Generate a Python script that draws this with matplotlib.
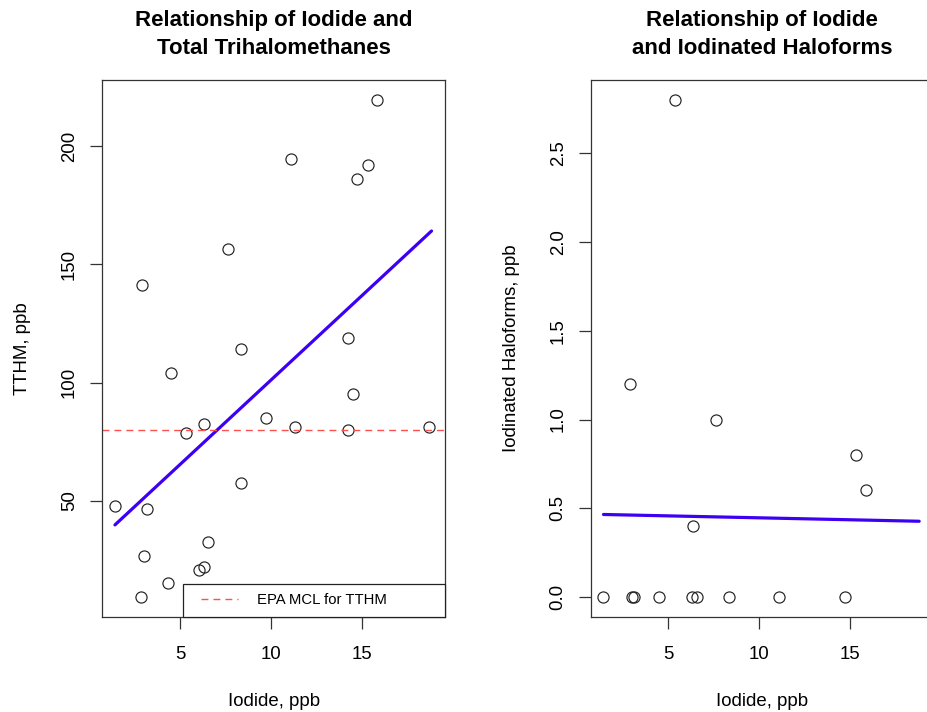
import matplotlib
matplotlib.use("Agg")
import matplotlib.pyplot as plt
from matplotlib.lines import Line2D
from matplotlib.legend_handler import HandlerLine2D

plt.rcParams['font.family'] = ['Liberation Sans', 'DejaVu Sans']

# ---------------- data ----------------
iodide_tthm = [15.83, 11.09, 15.34, 14.70, 7.65, 2.90, 14.20, 8.33, 4.49, 14.51,
               9.72, 6.32, 5.35, 11.30, 14.20, 18.65, 8.33, 1.43, 3.17, 6.55,
               3.04, 6.32, 6.04, 4.36, 2.84]
tthm = [219.4, 194.5, 192.1, 186.2, 156.4, 141.3, 119.0, 114.4, 104.1, 95.2,
        84.9, 82.5, 78.7, 81.3, 80.0, 81.4, 57.6, 48.0, 46.6, 32.5,
        26.8, 22.2, 20.8, 15.2, 9.4]

iodide_ih = [1.42, 2.89, 2.98, 3.13, 4.49, 5.37, 6.28, 6.34, 6.56, 7.64,
             8.34, 11.09, 14.74, 15.35, 15.86]
ih = [0.0, 1.2, 0.0, 0.0, 0.0, 2.8, 0.0, 0.4, 0.0, 1.0,
      0.0, 0.0, 0.0, 0.8, 0.6]

# fitted regression lines (intercept, slope) and iodide range they span
tthm_fit = (29.7, 7.15)
ih_fit = (0.468, -0.0022)
fit_x_range = [1.43, 18.8]

epa_mcl = 80
legend_label = "EPA MCL for TTHM"

left_title = "Relationship of Iodide and\nTotal Trihalomethanes"
right_title = "Relationship of Iodide\nand Iodinated Haloforms"
xlab = "Iodide, ppb"
left_ylab = "TTHM, ppb"
right_ylab = "Iodinated Haloforms, ppb"

left_xticks = [5, 10, 15]
left_yticks = [50, 100, 150, 200]
right_xticks = [5, 10, 15]
right_yticks = [0.0, 0.5, 1.0, 1.5, 2.0, 2.5]
right_yticklabels = ["0.0", "0.5", "1.0", "1.5", "2.0", "2.5"]

# ---------------- layout ----------------
W, H = 928, 712
fig = plt.figure(figsize=(W / 100, H / 100), dpi=100)

ax_w = 342.7
ax_top, ax_bot = 80.3, 617.0
lefts = [102.3, 591.0]

def fx(px):
    return px / W

def fy(py):
    return 1 - py / H

axes = []
for lx in lefts:
    ax = fig.add_axes([fx(lx), fy(ax_bot), ax_w / W, (ax_bot - ax_top) / H])
    axes.append(ax)

BLUE = '#3d00f5'
RED = '#ff5050'
PT_COLOR = '#222222'
TICK_FS = 13.4
LAB_FS = 13.4
TITLE_FS = 16

def style(ax):
    for s in ax.spines.values():
        s.set_color('#333333')
        s.set_linewidth(0.9)
    ax.tick_params(axis='both', direction='out', length=8.3, width=0.9,
                   color='#333333', labelsize=TICK_FS)
    ax.tick_params(axis='x', pad=12.3)
    ax.tick_params(axis='y', pad=9.2, labelrotation=90)
    plt.setp(ax.get_yticklabels(), va='center')

# ---------------- left panel ----------------
ax = axes[0]
ax.plot(iodide_tthm, tthm, linestyle='none', marker='o', markersize=8,
        markerfacecolor='none', markeredgecolor=PT_COLOR, markeredgewidth=0.85)
xs = fit_x_range
ax.plot(xs, [tthm_fit[0] + tthm_fit[1] * x for x in xs], color=BLUE, lw=2.3,
        solid_capstyle='round')
ax.axhline(epa_mcl, color=RED, lw=1.0, linestyle=(0, (5, 3.6)))
ax.set_xlim(0.735, 19.54)
ax.set_ylim(1.0, 227.8)
ax.set_xticks(left_xticks)
ax.set_yticks(left_yticks)
style(ax)

handle = Line2D([], [], color=RED, lw=1.0, linestyle=(0, (5, 3.6)))
leg = ax.legend([handle], [legend_label], loc='lower left',
                bbox_to_anchor=(0.2364, 0.0, 0.7636, 0.06), mode='expand',
                borderaxespad=0, fontsize=10.7, fancybox=False, framealpha=1,
                edgecolor='#222222', borderpad=0.65, handlelength=3.0,
                handletextpad=1.28,
                handler_map={handle: HandlerLine2D(xpad=0.52)})
leg.get_frame().set_linewidth(0.9)

# ---------------- right panel ----------------
ax = axes[1]
ax.plot(iodide_ih, ih, linestyle='none', marker='o', markersize=8,
        markerfacecolor='none', markeredgecolor=PT_COLOR, markeredgewidth=0.85)
ax.plot(xs, [ih_fit[0] + ih_fit[1] * x for x in xs], color=BLUE, lw=2.3,
        solid_capstyle='round')
ax.set_xlim(0.743, 19.60)
ax.set_ylim(-0.113, 2.912)
ax.set_xticks(right_xticks)
ax.set_yticks(right_yticks)
ax.set_yticklabels(right_yticklabels)
style(ax)

# ---------------- text ----------------
for lx, title, ylab in [(lefts[0], left_title, left_ylab),
                        (lefts[1], right_title, right_ylab)]:
    cx = lx + ax_w / 2
    fig.text(fx(cx), fy(54.3), title, ha='center', va='baseline',
             fontsize=TITLE_FS, fontweight='bold', linespacing=1.48,
             multialignment='center')
    fig.text(fx(cx), fy(706.5), xlab, ha='center', va='baseline',
             fontsize=LAB_FS)
    fig.text(fx(lx - 75.3), fy((ax_top + ax_bot) / 2), ylab, rotation=90,
             rotation_mode='anchor', ha='center', va='baseline',
             fontsize=LAB_FS)

fig.savefig('out.png', dpi=100, facecolor='white')
